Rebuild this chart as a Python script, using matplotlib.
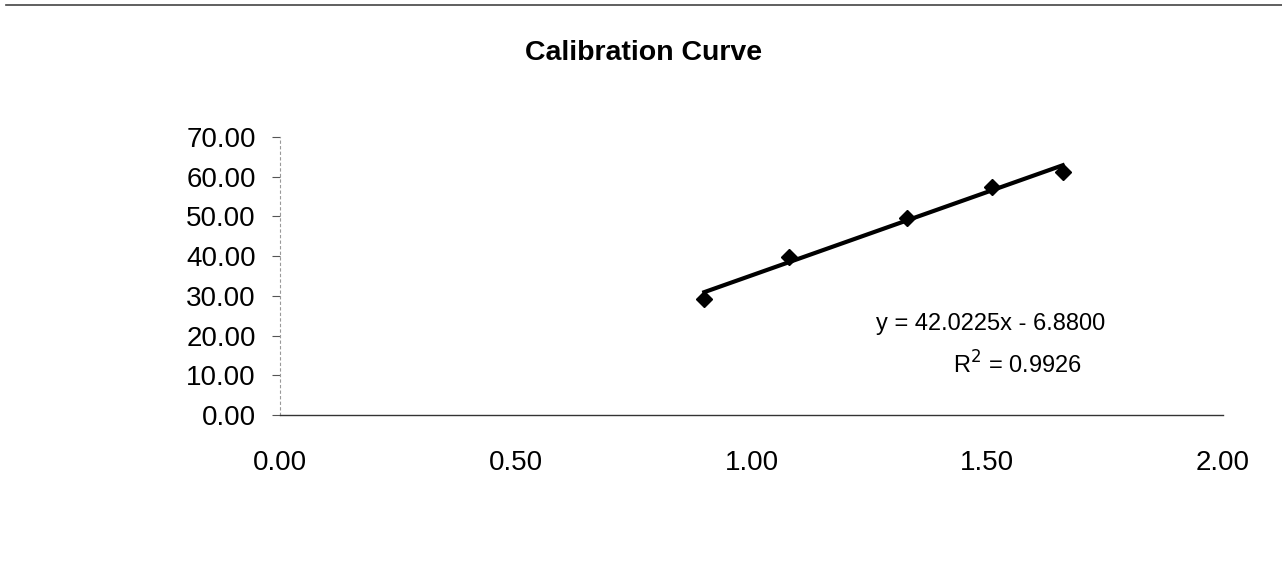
import numpy as np
import matplotlib.pyplot as plt

plt.rcParams['font.family'] = ['Liberation Sans', 'DejaVu Sans']

# data
conc = [0.90, 1.08, 1.33, 1.51, 1.66]
signal = [29.2, 39.8, 49.6, 57.4, 61.2]
slope = 42.0225
intercept = -6.8800
r2 = 0.9926

x_ticks = [0.0, 0.5, 1.0, 1.5, 2.0]
y_ticks = [0, 10, 20, 30, 40, 50, 60, 70]

fig = plt.figure(figsize=(12.82, 5.71), dpi=100)
ax = fig.add_axes([0.2184, 0.2732, 0.7356, 0.4869])

# trendline across the data range
xt = np.array([min(conc), max(conc)])
ax.plot(xt, slope * xt + intercept, color='black', lw=3.0, zorder=3)
ax.plot(conc, signal, linestyle='none', marker='D', ms=8.5, color='black', zorder=4)

ax.set_xlim(0, 2)
ax.set_ylim(0, 70)
ax.set_xticks(x_ticks)
ax.set_yticks(y_ticks)
ax.set_xticklabels([f'{v:.2f}' for v in x_ticks])
ax.set_yticklabels([f'{v:.2f}' for v in y_ticks])
ax.tick_params(axis='both', labelsize=20, direction='out', width=0.8, colors='#555555',
               labelcolor='black')
ax.tick_params(axis='x', pad=25, length=0)
ax.tick_params(axis='y', pad=12, length=5.5)

for s in ['top', 'right']:
    ax.spines[s].set_visible(False)
ax.spines['bottom'].set_color('#333333')
ax.spines['bottom'].set_linewidth(1.0)
ax.spines['left'].set_color('#999999')
ax.spines['left'].set_linewidth(0.8)
ax.spines['left'].set_linestyle((0, (2, 3)))

fig.text(0.502, 0.907, 'Calibration Curve', ha='center', va='center', fontsize=20.5, fontweight='bold')

ax.text(1.508, 22.9, f'y = {slope:.4f}x - {abs(intercept):.4f}', ha='center', va='center', fontsize=17)
ax.text(1.563, 12.6, f'R$^2$ = {r2:.4f}', ha='center', va='center', fontsize=17)

# scanned chart border at top
fig.add_artist(plt.Line2D([0.005, 1.0], [0.991, 0.991], color='#444444', lw=1.2))

fig.savefig('out.png', dpi=100)
